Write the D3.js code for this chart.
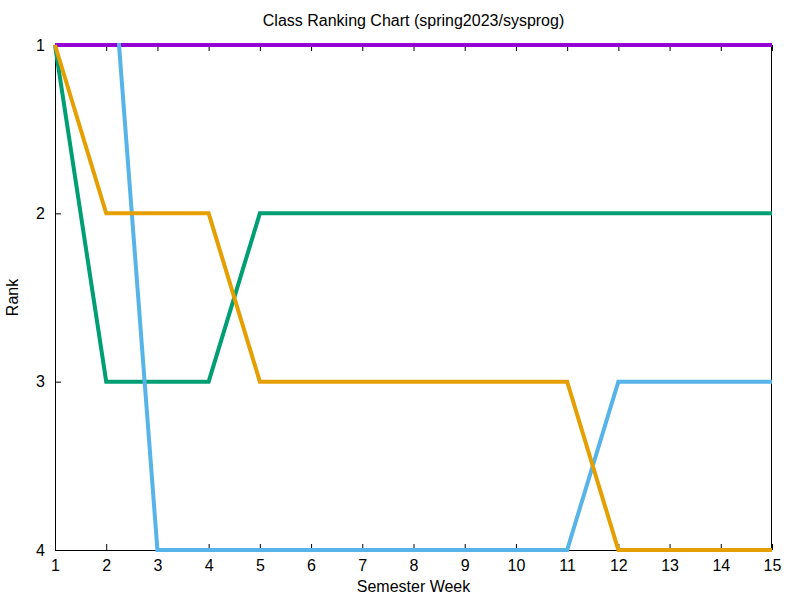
<!DOCTYPE html>
<html><head><meta charset="utf-8">
<script src="https://cdn.jsdelivr.net/npm/d3@7"></script>
<style>body{margin:0;background:#fff}svg{display:block}text{font-family:"Liberation Sans",Arial,sans-serif;fill:#000}</style>
</head><body>
<script>
const weeks = [1,2,3,4,5,6,7,8,9,10,11,12,13,14,15];
const xTicks = [1,2,3,4,5,6,7,8,9,10,11,12,13,14,15];
const yTicks = [1,2,3,4];
const seriesNames = ["purple","green","blue","orange"];
const seriesColors = ["#9400d3","#009e73","#56b4e9","#e69f00"];
const rankPurple = [1,1,1,1,1,1,1,1,1,1,1,1,1,1,1];
const rankGreen  = [1,3,3,3,2,2,2,2,2,2,2,2,2,2,2];
const rankBlue   = [0,0,4,4,4,4,4,4,4,4,4,3,3,3,3];
const rankOrange = [1,2,2,2,3,3,3,3,3,3,3,4,4,4,4];
const series = [rankPurple, rankGreen, rankBlue, rankOrange];

const W=800,H=600, L=55,R=772,T=45,B=550, FS=16;
const svg=d3.select("body").append("svg").attr("width",W).attr("height",H);
const x=d3.scaleLinear().domain([1,15]).range([L,R]);
const y=d3.scaleLinear().domain([1,4]).range([T,B]);

svg.append("defs").append("clipPath").attr("id","clip").append("rect")
  .attr("x",L-2).attr("y",T-2).attr("width",R-L+4).attr("height",B-T+4);

// border
svg.append("rect").attr("x",L+0.5).attr("y",T+0.5).attr("width",R-L-1).attr("height",B-T)
  .attr("fill","none").attr("stroke","#000").attr("stroke-width",1);

const xb=svg.append("g").attr("transform",`translate(0,${B})`)
  .call(d3.axisBottom(x).tickValues(xTicks).tickFormat(d3.format("d")).tickSizeInner(-6).tickSizeOuter(0).tickPadding(10));
const xt=svg.append("g").attr("transform",`translate(0,${T})`)
  .call(d3.axisTop(x).tickValues(xTicks).tickFormat("").tickSizeInner(-6).tickSizeOuter(0));
const yl=svg.append("g").attr("transform",`translate(${L},0)`)
  .call(d3.axisLeft(y).tickValues(yTicks).tickFormat(d3.format("d")).tickSizeInner(-6).tickSizeOuter(0).tickPadding(10));
const yr=svg.append("g").attr("transform",`translate(${R},0)`)
  .call(d3.axisRight(y).tickValues(yTicks).tickFormat("").tickSizeInner(-6).tickSizeOuter(0));
[xb,xt,yl,yr].forEach(g=>{g.select(".domain").remove();g.selectAll("line").attr("stroke","#000");g.selectAll("text").attr("font-size",FS).attr("font-family","Liberation Sans, Arial, sans-serif").attr("fill","#000");});

const line=d3.line().x((d,i)=>x(weeks[i])).y(d=>y(d));
const lg=svg.append("g").attr("clip-path","url(#clip)");
series.forEach((s,i)=>{
  lg.append("path").datum(s).attr("d",line).attr("fill","none")
    .attr("stroke",seriesColors[i]).attr("stroke-width",4).attr("stroke-linejoin","miter");
});

svg.append("text").attr("x",(L+R)/2).attr("y",26).attr("text-anchor","middle").attr("font-size",FS)
  .text("Class Ranking Chart (spring2023/sysprog)");
svg.append("text").attr("x",(L+R)/2).attr("y",592).attr("text-anchor","middle").attr("font-size",FS)
  .text("Semester Week");
svg.append("text").attr("transform",`translate(18,${(T+B)/2}) rotate(-90)`).attr("text-anchor","middle").attr("font-size",FS)
  .text("Rank");
</script>
</body></html>
